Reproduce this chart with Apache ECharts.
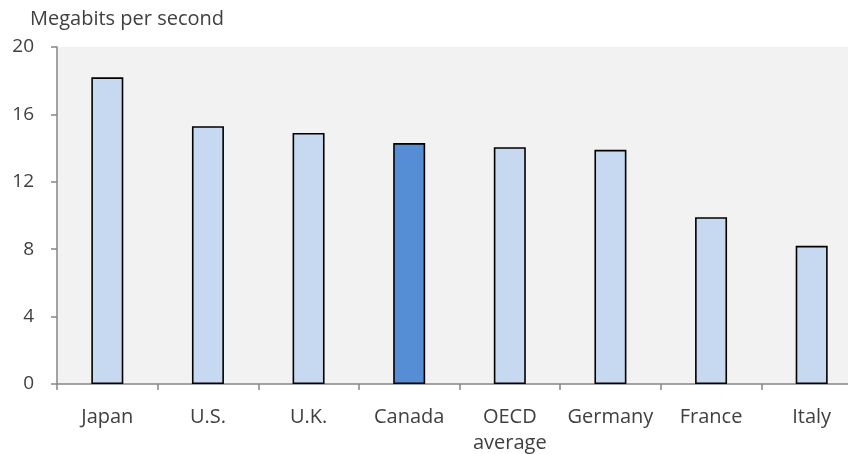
<!DOCTYPE html>
<html><head><meta charset="utf-8">
<script src="https://cdn.jsdelivr.net/npm/echarts@6/dist/echarts.min.js"></script>
<style>html,body{margin:0;padding:0;background:#fff}#c{width:848px;height:454px}</style>
</head><body><div id="c"></div>
<script>
const categories = ["Japan", "U.S.", "U.K.", "Canada", "OECD\naverage", "Germany", "France", "Italy"];
const values = [18.2, 15.3, 14.9, 14.3, 14.05, 13.9, 9.9, 8.2];
const highlight = "Canada";
const yTicks = [0, 4, 8, 12, 16, 20];
const unitLabel = "Megabits per second";

const font = "'Open Sans', 'Noto Sans', sans-serif";
const chart = echarts.init(document.getElementById('c'), null, {renderer: 'canvas'});
chart.setOption({
  animation: false,
  title: {text: unitLabel, left: 25, top: 4, textStyle: {fontFamily: font, fontSize: 20, fontWeight: 'normal', color: '#404040'}},
  grid: {left: 57, right: -14, top: 47, bottom: 70, show: true, backgroundColor: '#f2f2f2', borderWidth: 0,
         containLabel: false, outerBoundsMode: 'none'},
  xAxis: {
    type: 'category', data: categories,
    axisLine: {lineStyle: {color: '#868686', width: 1.5}},
    axisTick: {show: true, length: 6, lineStyle: {color: '#868686', width: 1.5}},
    axisLabel: {interval: 0, hideOverlap: false, fontFamily: font, fontSize: 20, color: '#404040', margin: 20, lineHeight: 26}
  },
  yAxis: {
    type: 'value', min: yTicks[0], max: yTicks[yTicks.length - 1], interval: 4,
    splitLine: {show: false},
    axisLine: {show: true, lineStyle: {color: '#868686', width: 1.5}},
    axisTick: {show: true, length: 6, lineStyle: {color: '#868686', width: 1.5}},
    axisLabel: {fontFamily: font, fontSize: 19, color: '#404040', margin: 23}
  },
  series: [{
    type: 'bar', barWidth: 32,
    data: values.map((v, i) => ({
      value: v,
      itemStyle: {color: categories[i] === highlight ? '#558ed5' : '#c6d9f0', borderColor: '#000', borderWidth: 1.6}
    }))
  }]
});
</script></body></html>
